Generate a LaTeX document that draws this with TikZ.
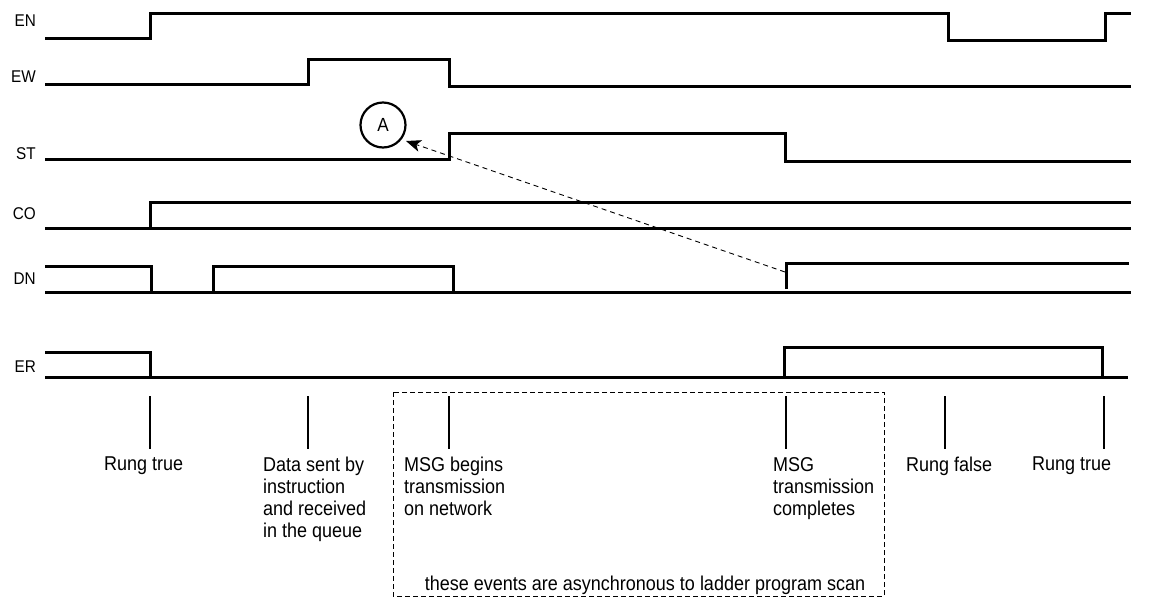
\documentclass[tikz,border=0pt]{standalone}
\usepackage{fontspec}
\setmainfont{Liberation Sans}
\newfontfamily\narrowfont[FakeStretch=0.9]{Liberation Sans}
\usepackage{tikz}
\usetikzlibrary{arrows.meta, positioning}
\tikzset{
    signal/.style={draw=black, line width=3pt, line join=miter},
    ev_tick/.style={draw=black, line width=2.6pt},
    sig_label/.style={anchor=east, inner sep=0pt, font=\narrowfont\fontsize{17}{20}\selectfont},
    ev_label/.style={anchor=north west, inner sep=0pt, align=left, font=\narrowfont\fontsize{20}{22}\selectfont},
    async_box/.style={draw=black, line width=0.9pt, dash pattern=on 5pt off 3pt},
    arrow/.style={-{Stealth[length=15pt, width=12pt, inset=4pt]}, draw=black, line width=0.9pt, dash pattern=on 5pt off 4pt}
}

\begin{document}
\begin{tikzpicture}[x=1pt, y=-1pt]

        \useasboundingbox (0,0) rectangle (1163,603);

        % -----------------------------------------------------------------
        % ETICHETTE DEI SEGNALI
        % -----------------------------------------------------------------
        \node (l_en) [sig_label] at (36,21) {EN};
        \node (l_ew) [sig_label] at (36,77) {EW};
        \node (l_st) [sig_label] at (36,154) {ST};
        \node (l_co) [sig_label] at (36,214) {CO};
        \node (l_dn) [sig_label] at (36,279) {DN};
        \node (l_er) [sig_label] at (36,367) {ER};

        % =================================================================
        % FORME D'ONDA
        % =================================================================

        % EN, EW, ST
        \draw[signal] (45,38) -- (150,38) -- (150,13) -- (948,13) -- (948,40) -- (1105,40) -- (1105,13) -- (1131,13);
        \draw[signal] (45,84) -- (308,84) -- (308,59) -- (449,59) -- (449,86) -- (1131,86);
        \draw[signal] (45,159) -- (449,159) -- (449,133) -- (785,133) -- (785,161) -- (1131,161);

        % CO
        \draw[signal] (45,228) -- (1131,228);
        \draw[signal] (150,228) -- (150,202) -- (1131,202);

        % DN
        \draw[signal] (45,292) -- (1131,292);
        \draw[signal] (45,266) -- (151,266) -- (151,292);
        \draw[signal] (213,292) -- (213,266) -- (453,266) -- (453,292);
        \draw[signal] (786,289) -- (786,263) -- (1129,263);

        % ER
        \draw[signal] (45,377) -- (1128,377);
        \draw[signal] (45,352) -- (150,352) -- (150,377);
        \draw[signal] (784,377) -- (784,347) -- (1102,347) -- (1102,377);

        % =================================================================
        % EVENTI
        % =================================================================
        \foreach \x in {150,308,449,786,945,1104}
            \draw[ev_tick] (\x,396) -- (\x,449);

        \node (ev_rung1) [ev_label] at (104,457) {Rung true};
        \node (ev_data) [ev_label] at (263,457) {Data sent by\\instruction\\and received\\in the queue};
        \node (ev_begin) [ev_label] at (404,457) {MSG begins\\transmission\\on network};
        \node (ev_done) [ev_label] at (773,457) {MSG\\transmission\\completes};
        \node (ev_false) [ev_label] at (906,457) {Rung false};
        \node (ev_rung2) [ev_label] at (1032,457) {Rung true};

        % Riquadro eventi asincroni
        \draw[async_box] (393,392) rectangle (884,596);
        \node (async) [anchor=base, inner sep=0pt, font=\narrowfont\fontsize{20}{22}\selectfont] at (645,590) {these events are asynchronous to ladder program scan};

        % -----------------------------------------------------------------
        % NOTA A
        % -----------------------------------------------------------------
        \node (circ_a) [circle, draw=black, line width=2.2pt, minimum size=45pt, inner sep=0pt, font=\narrowfont\fontsize{19}{22}\selectfont] at (383,125) {A};
        \coordinate (dn_up) at (785,272);
        \coordinate (tip_a) at (406,141);
        \draw[arrow] (dn_up) -- (tip_a);

    \end{tikzpicture}
\end{document}
